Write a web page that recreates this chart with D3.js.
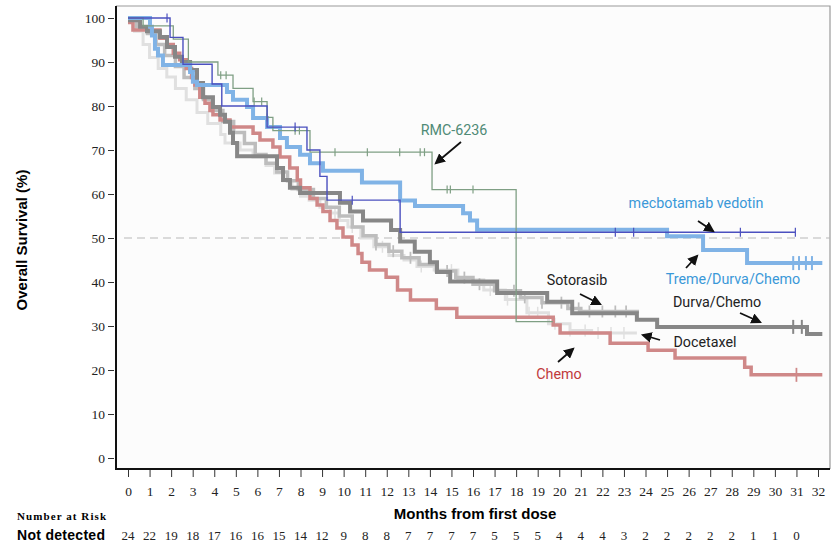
<!DOCTYPE html>
<html>
<head>
  <meta charset="utf-8">
  <title>Overall Survival KM curves</title>
  <script src="https://d3js.org/d3.v7.min.js"></script>
  <style>
    body { margin: 0; background: #fff; }
    svg { display: block; }
    .serif { font-family: "Liberation Serif", "DejaVu Serif", serif; }
    .sans { font-family: "Liberation Sans", Arial, sans-serif; }
    .note { font-family: Roboto, "Noto Sans", sans-serif; font-size: 14.3px; }
  </style>
</head>
<body>
  <svg width="838" height="546"></svg>

  <script>
    // Kaplan-Meier steps: [month, survival %]
    const docetaxel = [[0,99],[0.3,97],[0.7,94],[1.0,91],[1.4,88.5],[1.8,86.6],[2.2,84],[2.7,81.4],[3.2,78.5],[3.7,76],[4.3,73.5],[4.5,71.6],[5.2,70],[5.8,68.4],[6.4,66.5],[6.8,64.8],[7.2,63],[7.6,61],[8.0,59.5],[8.4,58.6],[8.9,57],[9.4,55.7],[9.8,54],[10.2,52.5],[10.8,50],[11.4,48],[12.1,46],[12.8,45],[13.4,43.5],[14.2,42.7],[15.3,40.5],[16.5,38.2],[17.5,36],[18.5,33],[19.5,30.5],[20.5,29],[21.5,28.4],[23.6,28.4]];
    const sotorasib = [[0,100],[0.4,98],[0.9,96.5],[1.3,94],[1.7,91.5],[2.2,89],[2.6,86.5],[3.1,84],[3.5,81.5],[3.9,79],[4.4,76.5],[4.9,74],[5.4,71.5],[5.9,69],[6.4,67],[6.9,65],[7.4,63],[7.9,61],[8.6,59],[9.2,57],[9.8,55],[10.4,52.5],[10.9,50.5],[11.5,48.5],[12.1,47],[12.7,45.5],[13.5,44],[14.3,42.5],[15.2,41],[16.0,39.5],[17.0,38],[18.2,36.5],[19.2,35.3],[20.4,34],[21.0,33.3],[23.7,33.3]];
    const chemo = [[0,99],[0.23,97.3],[1.48,95.4],[1.81,94],[2.1,92],[2.4,90.5],[2.7,88.5],[2.95,86.5],[3.1,84.8],[3.33,82],[3.57,80.6],[3.8,79],[3.94,78],[4.27,76.8],[4.73,75.2],[5.8,73.8],[6.12,72.3],[6.72,70.7],[7.05,68.4],[7.5,65.9],[7.85,63.2],[8.0,61.4],[8.44,59],[8.77,57.5],[9.04,56],[9.37,54],[9.69,52.3],[9.97,50.2],[10.39,48.4],[10.67,46.5],[10.85,44.5],[11.2,42.7],[11.97,41.1],[12.5,38.2],[13.1,35.9],[14.3,34],[15.25,32],[19.72,30.2],[20.04,28.4],[22.36,26.1],[24.12,24.5],[25.37,22.7],[28.6,20.6],[28.9,18.9],[32.2,18.9]];
    const durvaChemo = [[0,99.5],[0.56,98],[0.88,97],[1.48,95.7],[1.81,93.4],[2.18,91.2],[2.5,90],[2.88,88.2],[3.2,85.2],[3.48,82],[3.94,79.8],[4.27,78],[4.5,76.4],[4.73,73.9],[4.87,71.6],[5.06,68.6],[6.91,65.9],[7.19,63.2],[7.51,61.4],[7.98,60.2],[9.83,58],[10.3,56],[10.9,54],[12.2,51.8],[12.62,49.2],[13.3,46.9],[14.0,44.5],[14.33,42.3],[14.94,40.1],[17.12,37.5],[19.44,35.5],[20.6,32.9],[23.6,31.4],[24.54,29.8],[31.49,28.2],[32.2,28.2]];
    const tremeDurvaChemo = [[0,100],[1.02,98],[1.11,96],[1.25,93],[1.39,91.5],[1.62,89.3],[2.88,87.7],[3.01,85.5],[3.2,84.8],[4.59,83.2],[4.87,81.4],[5.52,79.8],[5.8,77.3],[6.45,75.2],[7.05,72.7],[7.37,70.7],[7.98,68.9],[8.44,67],[9.04,65.3],[10.85,62.6],[12.62,58.5],[13.31,57.3],[15.54,55.6],[15.86,54],[16.19,51.9],[25.0,50.4],[26.67,47.3],[28.71,44.3],[32.2,44.3]];
    const rmc6236 = [[0,100],[0.7,98.2],[2.1,95.2],[2.8,90],[4.17,87],[4.87,84],[5.8,81],[6.45,77.4],[6.72,74.4],[8.44,69.5],[14.1,61],[18.0,31],[19.7,31]];
    const mecbotamab = [[0,100],[1.95,95.6],[2.55,89.5],[3.9,85],[4.35,80],[6.45,75.2],[8.3,70],[8.9,64],[9.23,58.6],[12.62,51.3],[30.95,51.3]];

    // censor marks (months)
    const docetaxelCens = [9.6,10.4,11.8,13.6,15.0,16.8,17.6,18.6,19.0,19.8,20.5,21.2,21.8,22.4,23.0];
    const sotorasibCens = [11.5,12.3,13.1,14.8,15.6,16.3,17.9,18.4,19.2,20.1,20.9,21.4,22.0,22.6,23.1];
    const chemoCens = [31.0];
    const durvaCens = [30.85,31.25];
    const tremeCens = [30.85,31.12,31.44,31.72];
    const rmcCens = [4.3,4.55,5.85,6.2,6.45,7.75,7.95,9.6,11.1,12.6,13.55,13.75,14.8,14.95,16.0];
    const mecboCens = [1.81,7.75,10.4,22.6,23.45,28.4,30.95];

    const monthTicks = d3.range(0, 33);
    const survTicks = d3.range(0, 101, 10);
    const atRisk = [24,22,19,18,17,16,16,15,14,12,9,8,8,7,7,7,7,5,5,5,4,4,4,3,2,2,2,2,2,1,1,0];

    const svg = d3.select("svg");
    const x = d3.scaleLinear().domain([0, 32]).range([128, 818]);
    const y = d3.scaleLinear().domain([0, 100]).range([458, 18]);

    const frame = { left: 116, top: 6, right: 830, bottom: 469 };

    // plot background and frame
    svg.append("rect")
      .attr("x", frame.left).attr("y", frame.top)
      .attr("width", frame.right - frame.left).attr("height", frame.bottom - frame.top)
      .attr("fill", "#fcfcfc");
    svg.append("path")
      .attr("d", `M${frame.left},${frame.top}H${frame.right}V${frame.bottom}`)
      .attr("fill", "none").attr("stroke", "#9a9a9a").attr("stroke-width", 1.2);

    // 50% reference
    svg.append("line")
      .attr("x1", frame.left + 8).attr("x2", frame.right)
      .attr("y1", y(50)).attr("y2", y(50))
      .attr("stroke", "#b8b8b8").attr("stroke-width", 1.2)
      .attr("stroke-dasharray", "8,5");

    const line = d3.line()
      .x(d => x(d[0])).y(d => y(d[1]))
      .curve(d3.curveStepAfter);

    // survival value at time t for a step series
    function survAt(series, t) {
      let v = series[0][1];
      for (const p of series) { if (p[0] <= t) v = p[1]; }
      return v;
    }

    const curves = [
      { data: docetaxel, cens: docetaxelCens, color: "#e0e0e0", w: 3, tick: 12 },
      { data: sotorasib, cens: sotorasibCens, color: "#bdbdbd", w: 3.5, tick: 12 },
      { data: chemo, cens: chemoCens, color: "#cf8888", w: 3.5, tick: 14 },
      { data: durvaChemo, cens: durvaCens, color: "#878787", w: 4, tick: 14 },
      { data: tremeDurvaChemo, cens: tremeCens, color: "#80b3e6", w: 4, tick: 14 },
      { data: rmc6236, cens: rmcCens, color: "#7f9f84", w: 1.3, tick: 8 },
      { data: mecbotamab, cens: mecboCens, color: "#4b50bf", w: 1.4, tick: 9 }
    ];

    curves.forEach(c => {
      svg.append("path")
        .attr("d", line(c.data))
        .attr("fill", "none")
        .attr("stroke", c.color)
        .attr("stroke-width", c.w);
      svg.append("g").selectAll("line")
        .data(c.cens)
        .join("line")
        .attr("x1", d => x(d)).attr("x2", d => x(d))
        .attr("y1", d => y(survAt(c.data, d)) - c.tick / 2)
        .attr("y2", d => y(survAt(c.data, d)) + c.tick / 2)
        .attr("stroke", c.color)
        .attr("stroke-width", Math.max(1.2, c.w / 2));
    });

    // axes
    const yAxis = svg.append("g")
      .attr("transform", `translate(${frame.left - 2},0)`)
      .call(d3.axisLeft(y).tickValues(survTicks).tickSize(6).tickPadding(3));
    yAxis.select(".domain").remove();
    yAxis.selectAll("text").attr("class", "serif").style("font-size", "13.5px").attr("fill", "#222");
    yAxis.selectAll("line").attr("stroke", "#333");

    const xAxis = svg.append("g")
      .attr("transform", `translate(0,${frame.bottom + 1})`)
      .call(d3.axisBottom(x).tickValues(monthTicks).tickSize(7).tickPadding(9));
    xAxis.select(".domain").remove();
    xAxis.selectAll("text").attr("class", "serif").style("font-size", "13.5px").attr("fill", "#222");
    xAxis.selectAll("line").attr("stroke", "#333");

    svg.append("path")
      .attr("d", `M${frame.left},${frame.top}V${frame.bottom}H${frame.right}`)
      .attr("fill", "none").attr("stroke", "#111").attr("stroke-width", 2);

    // axis titles
    svg.append("text")
      .attr("class", "sans")
      .attr("transform", `translate(27,240) rotate(-90)`)
      .attr("text-anchor", "middle")
      .style("font-size", "15px").style("font-weight", "bold")
      .text("Overall Survival (%)");
    svg.append("text")
      .attr("class", "sans")
      .attr("x", 475).attr("y", 519)
      .attr("text-anchor", "middle")
      .style("font-size", "15px").style("font-weight", "bold")
      .text("Months from first dose");

    // number at risk
    svg.append("text")
      .attr("class", "serif")
      .attr("x", 17).attr("y", 520)
      .style("font-size", "11px").style("font-weight", "bold")
      .attr("textLength", 89)
      .text("Number at Risk");
    svg.append("text")
      .attr("class", "sans")
      .attr("x", 17).attr("y", 540)
      .style("font-size", "14px").style("font-weight", "bold")
      .attr("textLength", 88)
      .text("Not detected");
    svg.append("g").selectAll("text")
      .data(atRisk)
      .join("text")
      .attr("class", "serif")
      .attr("x", (d, i) => x(i)).attr("y", 540)
      .attr("text-anchor", "middle")
      .style("font-size", "13px").attr("fill", "#222")
      .text(d => d);

    // annotations
    const notes = [
      { text: "RMC-6236", x: 454, y: 135, color: "#4f8a76", arrow: [461, 142, 436, 163] },
      { text: "mecbotamab vedotin", x: 696, y: 208, color: "#3a98d8", arrow: [698, 221, 713, 231] },
      { text: "Treme/Durva/Chemo", x: 733, y: 284, color: "#3a98d8", arrow: [686, 268, 697, 256] },
      { text: "Sotorasib", x: 577, y: 285, color: "#222", arrow: [580, 294, 600, 304] },
      { text: "Durva/Chemo", x: 717, y: 307, color: "#222", arrow: [740, 313, 760, 322] },
      { text: "Docetaxel", x: 705, y: 347, color: "#222", arrow: [660, 340, 643, 335] },
      { text: "Chemo", x: 559, y: 379, color: "#c0393b", arrow: [558, 362, 573, 349] }
    ];

    svg.append("defs").append("marker")
      .attr("id", "ah").attr("viewBox", "0 0 10 10")
      .attr("refX", 8).attr("refY", 5)
      .attr("markerWidth", 6).attr("markerHeight", 6)
      .attr("orient", "auto")
      .append("path").attr("d", "M0,0L10,5L0,10z").attr("fill", "#111");

    notes.forEach(n => {
      svg.append("text")
        .attr("class", "note")
        .attr("x", n.x).attr("y", n.y)
        .attr("text-anchor", "middle")
        .attr("fill", n.color)
        .text(n.text);
      svg.append("line")
        .attr("x1", n.arrow[0]).attr("y1", n.arrow[1])
        .attr("x2", n.arrow[2]).attr("y2", n.arrow[3])
        .attr("stroke", "#111").attr("stroke-width", 1.8)
        .attr("marker-end", "url(#ah)");
    });
  </script>
</body>
</html>
